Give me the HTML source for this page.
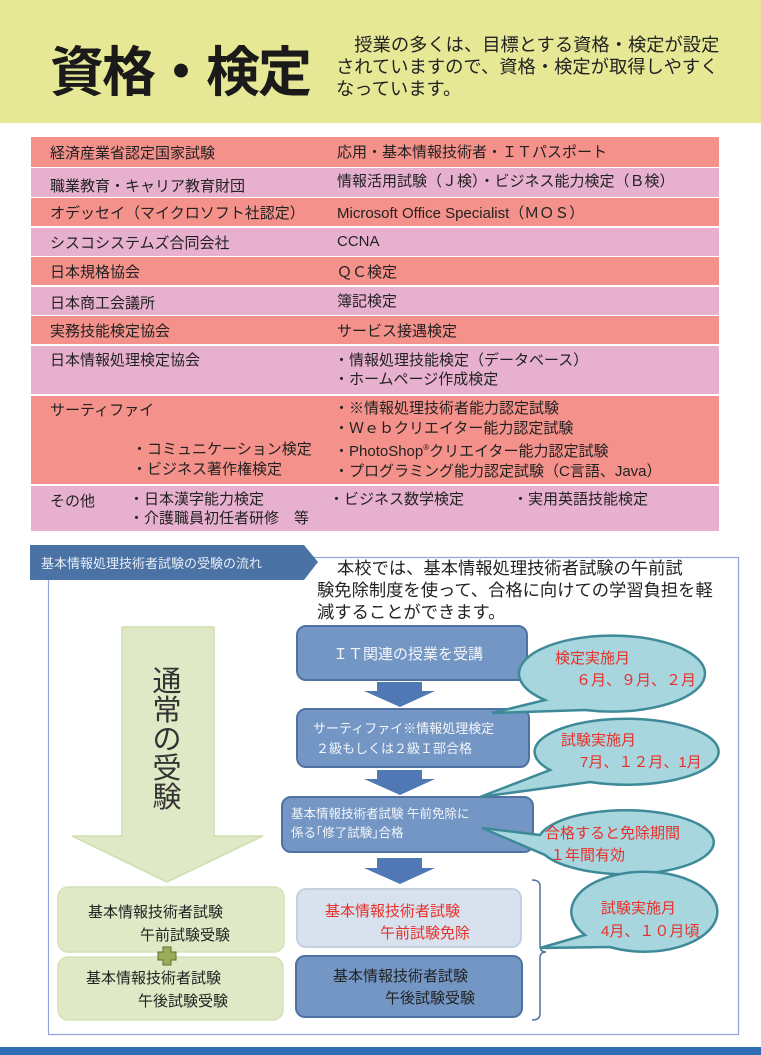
<!DOCTYPE html>
<html><head><meta charset="utf-8"><style>
*{margin:0;padding:0;box-sizing:border-box}
body{width:761px;height:1055px;background:#fff;position:relative;overflow:hidden;font-family:"Liberation Sans","Noto Sans CJK JP",sans-serif;color:#222}
.hd{position:absolute;left:0;top:0;width:761px;height:123px;background:#e6e896}
.title{position:absolute;left:50px;top:28px;font-size:54px;font-weight:bold;color:#1a1a1a;letter-spacing:-2px;font-family:"Noto Sans CJK JP",sans-serif}
.intro{position:absolute;left:336px;top:34px;font-size:18.3px;line-height:22px;color:#222;white-space:nowrap}
.row{position:absolute;left:31px;width:688px;font-size:15px}
.s{background:#f4918a}.p{background:#e8b0cf}
.row span{position:absolute;white-space:nowrap}
</style></head><body>
<div class="hd"></div>
<div class="title">資格・検定</div>
<div class="intro">　授業の多くは、目標とする資格・検定が設定<br>されていますので、資格・検定が取得しやすく<br>なっています。</div>

<div class="row s" style="top:137px;height:30px"><span style="left:19px;top:5px">経済産業省認定国家試験</span><span style="left:306px;top:4px">応用・基本情報技術者・ＩＴパスポート</span></div>
<div class="row p" style="top:168px;height:29px"><span style="left:19px;top:7px">職業教育・キャリア教育財団</span><span style="left:306px;top:2px">情報活用試験（Ｊ検）・ビジネス能力検定（Ｂ検）</span></div>
<div class="row s" style="top:198px;height:28px"><span style="left:19px;top:4px">オデッセイ（マイクロソフト社認定）</span><span style="left:306px;top:4px">Microsoft Office Specialist（ＭＯＳ）</span></div>
<div class="row p" style="top:228px;height:28px"><span style="left:19px;top:4px">シスコシステムズ合同会社</span><span style="left:306px;top:5px">CCNA</span></div>
<div class="row s" style="top:257px;height:28px"><span style="left:19px;top:4px">日本規格協会</span><span style="left:306px;top:4px">ＱＣ検定</span></div>
<div class="row p" style="top:287px;height:28px"><span style="left:19px;top:5px">日本商工会議所</span><span style="left:306px;top:3px">簿記検定</span></div>
<div class="row s" style="top:316px;height:28px"><span style="left:19px;top:4px">実務技能検定協会</span><span style="left:306px;top:4px">サービス接遇検定</span></div>
<div class="row p" style="top:346px;height:48px;line-height:19px"><span style="left:19px;top:5px">日本情報処理検定協会</span><span style="left:303px;top:5px">・情報処理技能検定（データベース）<br>・ホームページ作成検定</span></div>
<div class="row s" style="top:396px;height:88px;line-height:19.5px"><span style="left:19px;top:5px">サーティファイ</span><span style="left:101px;top:44px">・コミュニケーション検定<br>・ビジネス著作権検定</span><span style="left:303px;top:3px">・※情報処理技術者能力認定試験<br>・Ｗｅｂクリエイター能力認定試験<br>・PhotoShop<sup style="font-size:8px">®</sup>クリエイター能力認定試験<br>・プログラミング能力認定試験（C言語、Java）</span></div>
<div class="row p" style="top:486px;height:45px;line-height:19px"><span style="left:19px;top:6px">その他</span><span style="left:98px;top:4px">・日本漢字能力検定<br>・介護職員初任者研修　等</span><span style="left:298px;top:4px">・ビジネス数学検定</span><span style="left:482px;top:4px">・実用英語技能検定</span></div>

<svg width="761" height="1055" style="position:absolute;left:0;top:0" font-family="Liberation Sans, Noto Sans CJK JP, sans-serif">
<rect x="48.5" y="557.5" width="690" height="477" fill="none" stroke="#8fa4d8" stroke-width="1.2"/>
<polygon points="30,545 304,545 318,562 304,580 30,580" fill="#4a72a4"/>
<text x="41" y="568" font-size="13" fill="#e8eef8">基本情報処理技術者試験の受験の流れ</text>
<text font-size="17.3" fill="#222"><tspan x="337" y="574">本校では、基本情報処理技術者試験の午前試</tspan><tspan x="317" y="596">験免除制度を使って、合格に向けての学習負担を軽</tspan><tspan x="317" y="618">減することができます。</tspan></text>

<polygon points="122,627 214,627 214,836 263,836 167,882 72,836 122,836" fill="#dfe9c5" stroke="#cddfae" stroke-width="1.5"/>
<text font-size="29" fill="#333" text-anchor="middle"><tspan x="167" y="691">通</tspan><tspan x="167" y="720">常</tspan><tspan x="167" y="749">の</tspan><tspan x="167" y="778">受</tspan><tspan x="167" y="807">験</tspan></text>

<rect x="58" y="887" width="226" height="65" rx="10" fill="#dfe9c5" stroke="#d3e2b8" stroke-width="1.5"/>
<rect x="58" y="957" width="225" height="63" rx="10" fill="#dfe9c5" stroke="#d3e2b8" stroke-width="1.5"/>
<text font-size="15" fill="#222"><tspan x="88" y="917">基本情報技術者試験</tspan><tspan x="140" y="940">午前試験受験</tspan><tspan x="86" y="983">基本情報技術者試験</tspan><tspan x="138" y="1006">午後試験受験</tspan></text>
<path d="M163,947h8v5h5v8h-5v5h-8v-5h-5v-8h5z" fill="#9aab5a" stroke="#5f6f30"/>

<g fill="#7396c4" stroke="#4f72a2" stroke-width="2">
<rect x="297" y="626" width="230" height="54" rx="9"/>
<rect x="297" y="709" width="232" height="58" rx="9"/>
<rect x="282" y="797" width="251" height="55" rx="9"/>
<rect x="296" y="956" width="226" height="61" rx="9"/>
</g>
<rect x="297" y="889" width="224" height="58" rx="9" fill="#d7e2ee" stroke="#c3d0e0" stroke-width="2"/>
<g fill="#4f78b4">
<polygon points="377,682 422,682 422,691 435,691 400,707 364,691 377,691"/>
<polygon points="377,770 422,770 422,779 435,779 400,795 364,779 377,779"/>
<polygon points="377,858 422,858 422,868 435,868 400,884 364,868 377,868"/>
</g>
<text font-size="15" fill="#f4f6fa"><tspan x="333" y="659">ＩＴ関連の授業を受講</tspan></text>
<text font-size="13" fill="#f4f6fa"><tspan x="313" y="733">サーティファイ※情報処理検定</tspan><tspan x="316" y="753">２級もしくは２級Ｉ部合格</tspan></text>
<text font-size="12.5" fill="#f4f6fa"><tspan x="291" y="818">基本情報技術者試験 午前免除に</tspan><tspan x="291" y="837">係る｢修了試験｣合格</tspan></text>
<text font-size="15" fill="#e8302a"><tspan x="325" y="916">基本情報技術者試験</tspan><tspan x="380" y="938">午前試験免除</tspan></text>
<text font-size="15" fill="#222"><tspan x="333" y="981">基本情報技術者試験</tspan><tspan x="385" y="1003">午後試験受験</tspan></text>

<path d="M532,880 q8,0 8,6 v60 q0,6 6,6 q-6,0 -6,6 v56 q0,6 -8,6" fill="none" stroke="#4f72a2" stroke-width="1.5"/>

<g fill="#a8d6de" stroke="#3e8a98" stroke-width="2.5">
<path d="M545,700 A93,38 0 1 1 585,710 L492,713 Z"/>
<path d="M550,770 A92,33 0 1 1 590,782 L480,797 Z"/>
<path d="M540,835 A88,32 0 1 1 545,855 L482,828 Z"/>
<path d="M585,935 A73,40 0 1 1 610,947 L540,948 Z"/>
</g>
<text font-size="15" fill="#e8302a"><tspan x="555" y="663">検定実施月</tspan><tspan x="576" y="685">６月、９月、２月</tspan>
<tspan x="561" y="745">試験実施月</tspan><tspan x="580" y="767">7月、１２月、1月</tspan>
<tspan x="545" y="838">合格すると免除期間</tspan><tspan x="550" y="860">１年間有効</tspan>
<tspan x="601" y="913">試験実施月</tspan><tspan x="601" y="936">4月、１０月頃</tspan></text>
<rect x="0" y="1047" width="761" height="8" fill="#2e6db4"/>
</svg>
</body></html>
